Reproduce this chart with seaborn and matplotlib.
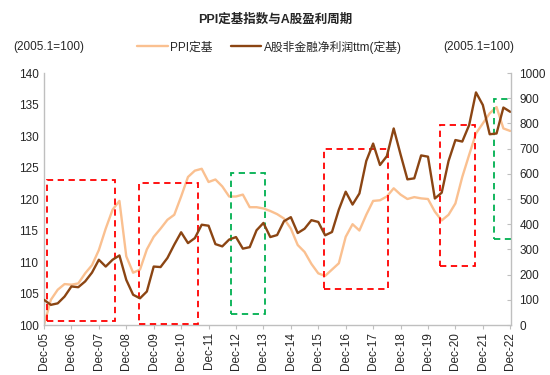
import pandas as pd
import matplotlib.pyplot as plt
import seaborn as sns
from matplotlib.patches import Rectangle

# Dados trimestrais, Dec-05 a Dec-22
ppi = [100.0, 104.0, 105.6, 106.5, 106.4, 106.6, 108.2, 109.5, 111.9, 115.3,
       118.3, 119.7, 110.9, 108.3, 108.8, 112.0, 114.0, 115.3, 116.7, 117.5,
       120.4, 123.5, 124.5, 124.8, 122.7, 123.1, 122.0, 120.4, 120.4, 120.7,
       118.7, 118.7, 118.5, 118.1, 117.6, 116.9, 115.3, 112.7, 111.6, 109.7,
       108.2, 107.8, 108.8, 109.8, 114.0, 116.0, 115.0, 117.5, 119.7, 119.8,
       120.4, 121.7, 120.7, 120.0, 120.3, 120.1, 120.0, 118.0, 116.6, 117.5,
       119.3, 123.5, 127.0, 130.4, 132.0, 133.6, 134.6, 131.2, 130.8]

lucro = [100, 80, 86, 113, 153, 150, 173, 208, 259, 232,
         259, 276, 179, 120, 106, 133, 232, 230, 266, 319,
         368, 325, 345, 398, 394, 321, 312, 339, 349, 303,
         309, 376, 405, 349, 357, 412, 428, 365, 382, 416,
         409, 356, 369, 458, 529, 478, 522, 651, 720, 635,
         670, 780, 677, 578, 582, 673, 668, 502, 525, 651,
         734, 728, 793, 923, 873, 757, 760, 863, 846]

anos = ['Dec-%02d' % a for a in range(5, 23)]

# Caixas destacadas: (x0, x1, y0, y1, cor) no eixo esquerdo
caixas = [
    (0.44, 10.3, 100.7, 123.0, '#FF0000'),
    (13.8, 22.5, 100.15, 122.5, '#FF0000'),
    (27.2, 32.2, 101.7, 124.2, '#00B050'),
    (40.9, 50.1, 105.7, 128.0, '#FF0000'),
    (57.8, 62.8, 109.4, 131.7, '#FF0000'),
    (65.7, 68.2, 113.6, 135.8, '#00B050'),
]

df = pd.DataFrame({'t': range(len(ppi)), 'ppi': ppi, 'lucro': lucro})

sns.set_style('white')
plt.rcParams['font.family'] = ['Liberation Sans', 'Noto Sans CJK SC']

fig = plt.figure(figsize=(5.5, 3.75), dpi=100)
ax = fig.add_axes([0.08, 0.1333, 0.849, 0.672])
ax2 = ax.twinx()

sns.lineplot(data=df, x='t', y='ppi', ax=ax, color='#FAC090', linewidth=1.7, label='PPI定基', legend=False)
sns.lineplot(data=df, x='t', y='lucro', ax=ax2, color='#8B4513', linewidth=1.7, label='A股非金融净利润ttm(定基)', legend=False)

for x0, x1, y0, y1, cor in caixas:
    ax.add_patch(Rectangle((x0, y0), x1 - x0, y1 - y0, fill=False, edgecolor=cor,
                           linestyle=(0, (3.5, 2.5)), linewidth=1.3, zorder=5))

ax.set_xlim(0, 68.1)
ax.set_ylim(100, 140)
ax2.set_ylim(0, 1000)
ax.set_yticks(range(100, 141, 5))
ax2.set_yticks(range(0, 1001, 100))
ax.set_xticks(range(0, 69, 4))
ax.set_xticklabels(anos, rotation=90)
ax.set_xlabel('')
ax.set_ylabel('')
ax2.set_ylabel('')

for a in (ax, ax2):
    a.spines['top'].set_visible(False)
    for s in ('left', 'right', 'bottom'):
        a.spines[s].set_color('#BFBFBF')
        a.spines[s].set_linewidth(1.0)
ax.spines['right'].set_visible(False)
ax2.spines['left'].set_visible(False)
ax2.spines['bottom'].set_visible(False)

ax.tick_params(axis='y', length=0, labelsize=8.5, pad=4)
ax.tick_params(axis='x', length=3, color='#BFBFBF', labelsize=8.5, pad=2, bottom=True)
ax2.tick_params(axis='y', direction='in', length=3, color='#BFBFBF', labelsize=8.5, pad=6)

fig.text(0.5, 0.947, 'PPI定基指数与A股盈利周期', ha='center', va='center', fontsize=9, fontweight='bold')
fig.text(0.025, 0.875, '(2005.1=100)', ha='left', va='center', fontsize=8.5)
fig.text(0.935, 0.875, '(2005.1=100)', ha='right', va='center', fontsize=8.5)

h1, l1 = ax.get_legend_handles_labels()
h2, l2 = ax2.get_legend_handles_labels()
fig.legend(h1 + h2, l1 + l2, loc='center', bbox_to_anchor=(0.49, 0.875), ncol=2, frameon=False,
           fontsize=8.5, handlelength=2.6, columnspacing=1.5, handletextpad=0.2)

fig.savefig('out.png', dpi=100)
